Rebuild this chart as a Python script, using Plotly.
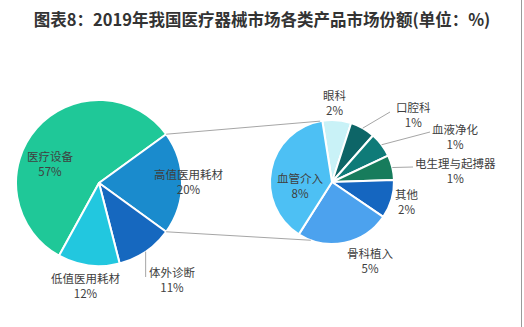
import math
import plotly.graph_objects as go

W, H = 524, 327

# ---------------- data ----------------
main_labels = ["医疗设备", "高值医用耗材", "体外诊断", "低值医用耗材"]
main_values = [57, 20, 11, 12]
sub_labels = ["眼科", "口腔科", "血液净化", "电生理与起搏器", "其他", "骨科植入", "血管介入"]
sub_values = [1.5, 1.3, 1.3, 1.3, 2.0, 4.9, 7.7]
title_text = "图表8：2019年我国医疗器械市场各类产品市场份额(单位：%)"

# ---------------- styles / layout ----------------
main_colors = ["#1FC898", "#1A8BCD", "#1668BF", "#22C7DF"]
sub_colors = ["#C9F2F7", "#0D6567", "#0F7B78", "#177C5C", "#1566C0", "#4CA2EE", "#4DC0F4"]
FONT = "Noto Sans CJK SC, Microsoft YaHei, sans-serif"
TXT = "#404040"

L_cx, L_cy, L_r = 99, 183, 83
R_cx, R_cy, R_r = 332, 182, 62
expand_idx = 1  # slice of the main pie that is broken down
R_rotation = -9

# label text centres (pixels)
main_label_pos = [(50, 163.5), (188, 181.5), (172, 279.5), (85, 285)]
sub_label_pos = [(335, 102), (413, 114.5), (455, 136.5), (455, 170.5),
                 (407, 201.5), (370, 260), (300, 185)]
# leader line end points (pixels)
main_leaders = {2: (None, 277)}
sub_leaders = {1: (390, 112), 2: (430, 132), 3: (413, 167)}
connector_right_angles = [101, 250]


def px(x):
    return x / W


def py(y):
    return 1 - y / H


def domain(cx, cy, r):
    return dict(x=[px(cx - r), px(cx + r)], y=[py(cy + r), py(cy - r)])


def slice_angles(values, rotation):
    """math angles (deg, ccw from +x) of start/end for each slice, clockwise pie"""
    tot = sum(values)
    out = []
    cum = 0
    for v in values:
        s = 90 - (rotation + cum / tot * 360)
        cum += v
        e = 90 - (rotation + cum / tot * 360)
        out.append((s, e))
    return out


def edge(cx, cy, r, ang):
    a = math.radians(ang)
    return cx + r * math.cos(a), cy - r * math.sin(a)


tot_main = sum(main_values)
L_rotation = -(sum(main_values[:expand_idx]) + main_values[expand_idx] / 2) / tot_main * 360 + 90

main_ang = slice_angles(main_values, L_rotation)
sub_ang = slice_angles(sub_values, R_rotation)

fig = go.Figure()
fig.add_trace(go.Pie(
    labels=main_labels, values=main_values, sort=False, direction="clockwise",
    rotation=L_rotation, textinfo="none", domain=domain(L_cx, L_cy, L_r),
    marker=dict(colors=main_colors, line=dict(color="white", width=2)),
    showlegend=False,
))
fig.add_trace(go.Pie(
    labels=sub_labels, values=sub_values, sort=False, direction="clockwise",
    rotation=R_rotation, textinfo="none", domain=domain(R_cx, R_cy, R_r),
    marker=dict(colors=sub_colors, line=dict(color="white", width=2)),
    showlegend=False,
))

shapes = []
# connectors between the pies
s, e = main_ang[expand_idx]
for a_left, a_right in zip([s, e], connector_right_angles):
    x0, y0 = edge(L_cx, L_cy, L_r, a_left)
    x1, y1 = edge(R_cx, R_cy, R_r, a_right)
    shapes.append(dict(type="line", xref="paper", yref="paper",
                       x0=px(x0), y0=py(y0), x1=px(x1), y1=py(y1),
                       line=dict(color="#A6A6A6", width=1)))

# leader lines
for i, (tx, ty) in main_leaders.items():
    m = sum(main_ang[i]) / 2
    x0, y0 = edge(L_cx, L_cy, L_r, m)
    x1 = x0 if tx is None else tx
    shapes.append(dict(type="line", xref="paper", yref="paper",
                       x0=px(x0), y0=py(y0), x1=px(x1), y1=py(ty),
                       line=dict(color="#A6A6A6", width=1)))
for i, (tx, ty) in sub_leaders.items():
    m = sum(sub_ang[i]) / 2
    x0, y0 = edge(R_cx, R_cy, R_r, m)
    shapes.append(dict(type="line", xref="paper", yref="paper",
                       x0=px(x0), y0=py(y0), x1=px(tx), y1=py(ty),
                       line=dict(color="#A6A6A6", width=1)))

# right frame edge
shapes.append(dict(type="line", xref="paper", yref="paper",
                   x0=px(521.5), y0=0, x1=px(521.5), y1=1,
                   line=dict(color="#9A9A9A", width=1)))

annotations = []
for lab, v, (x, y) in zip(main_labels, main_values, main_label_pos):
    annotations.append(dict(
        x=px(x), y=py(y), xref="paper", yref="paper", showarrow=False,
        text=f"{lab}<br>{int(v + 0.5)}%", xanchor="center", yanchor="middle",
        font=dict(family=FONT, size=11.5, color=TXT), align="center"))
for lab, v, (x, y) in zip(sub_labels, sub_values, sub_label_pos):
    annotations.append(dict(
        x=px(x), y=py(y), xref="paper", yref="paper", showarrow=False,
        text=f"{lab}<br>{int(v + 0.5)}%", xanchor="center", yanchor="middle",
        font=dict(family=FONT, size=11.5, color=TXT), align="center"))

fig.update_layout(
    width=W, height=H, margin=dict(l=0, r=0, t=0, b=0),
    paper_bgcolor="white", plot_bgcolor="white",
    title=dict(text=f"<b>{title_text}</b>", x=0.5, xanchor="center",
               y=1 - 20 / H, yanchor="middle", yref="container",
               font=dict(family=FONT, size=16.5, color="#333333")),
    shapes=shapes, annotations=annotations,
)

fig.write_html("out.html")
